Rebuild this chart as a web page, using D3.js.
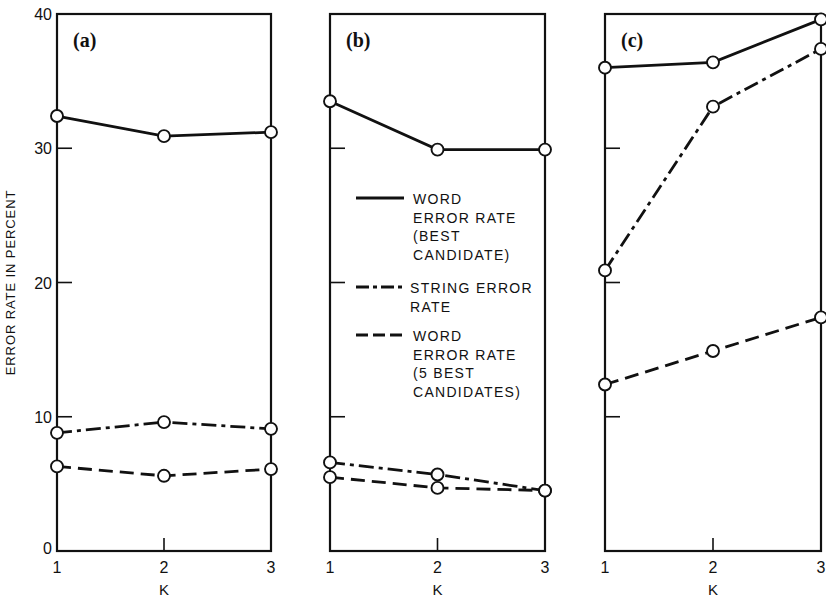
<!DOCTYPE html>
<html>
<head>
<meta charset="utf-8">
<script src="https://cdn.jsdelivr.net/npm/d3@7/dist/d3.min.js"></script>
<style>
  html, body { margin: 0; padding: 0; background: #fff; }
  svg { display: block; }
  text { font-family: "Liberation Sans", Arial, sans-serif; fill: #111; }
</style>
</head>
<body>
<svg id="chart" width="826" height="598"></svg>
<script>
// K values on the horizontal axis
const kValues = [1, 2, 3];
const yTicks = [0, 10, 20, 30, 40];
const panelNames = ["(a)", "(b)", "(c)"];

// Error rates (percent) per panel, for K = 1, 2, 3
const wordBestA = [32.4, 30.9, 31.2];
const stringA   = [8.8, 9.6, 9.1];
const word5A    = [6.3, 5.6, 6.1];

const wordBestB = [33.5, 29.9, 29.9];
const stringB   = [6.6, 5.7, 4.5];
const word5B    = [5.5, 4.7, 4.5];

const wordBestC = [36.0, 36.4, 39.6];
const stringC   = [20.9, 33.1, 37.4];
const word5C    = [12.4, 14.9, 17.4];

const seriesNames = ["WORD ERROR RATE (BEST CANDIDATE)", "STRING ERROR RATE", "WORD ERROR RATE (5 BEST CANDIDATES)"];
const legendLines = [
  ["WORD", "ERROR RATE", "(BEST", "CANDIDATE)"],
  ["STRING ERROR", "RATE"],
  ["WORD", "ERROR RATE", "(5 BEST", "CANDIDATES)"]
];

const panels = [
  { name: panelNames[0], series: [wordBestA, stringA, word5A], x0: 57,  x1: 271 },
  { name: panelNames[1], series: [wordBestB, stringB, word5B], x0: 330, x1: 545 },
  { name: panelNames[2], series: [wordBestC, stringC, word5C], x0: 605, x1: 821 }
];

const dashes = [null, "15,5,4,5", "14,7"];

const svg = d3.select("#chart");
const y = d3.scaleLinear().domain([0, 40]).range([551, 14]);

panels.forEach((p, pi) => {
  const x = d3.scaleLinear().domain([1, 3]).range([p.x0, p.x1]);
  const g = svg.append("g");

  // frame
  g.append("rect")
    .attr("x", p.x0).attr("y", y(40))
    .attr("width", p.x1 - p.x0).attr("height", y(0) - y(40))
    .attr("fill", "none").attr("stroke", "#111").attr("stroke-width", 2.2);

  // left inward ticks
  g.selectAll("line.ytick").data(yTicks.filter(t => t > 0 && t < 40)).enter()
    .append("line")
    .attr("x1", p.x0).attr("x2", p.x0 + 15)
    .attr("y1", d => y(d)).attr("y2", d => y(d))
    .attr("stroke", "#111").attr("stroke-width", 1.6);

  // bottom tick at K = 2
  g.append("line")
    .attr("x1", x(2)).attr("x2", x(2))
    .attr("y1", y(0)).attr("y2", y(0) - 13)
    .attr("stroke", "#111").attr("stroke-width", 1.6);

  // x tick labels
  g.selectAll("text.xl").data(kValues).enter()
    .append("text")
    .attr("x", d => x(d)).attr("y", 573)
    .attr("text-anchor", "middle")
    .style("font-size", "16px")
    .text(d => d);

  g.append("text")
    .attr("x", x(2)).attr("y", 595)
    .attr("text-anchor", "middle")
    .style("font-size", "15px")
    .text("K");

  // panel label
  g.append("text")
    .attr("x", p.x0 + 16).attr("y", 47)
    .style("font-family", "'Liberation Serif', 'Times New Roman', serif")
    .style("font-size", "20px")
    .style("font-weight", "bold")
    .text(p.name);

  // series lines
  const line = d3.line().x((d, i) => x(kValues[i])).y(d => y(d));
  p.series.forEach((vals, si) => {
    g.append("path")
      .datum(vals)
      .attr("d", line)
      .attr("fill", "none")
      .attr("stroke", "#111")
      .attr("stroke-width", 2.8)
      .attr("stroke-dasharray", dashes[si]);
  });
  p.series.forEach(vals => {
    g.selectAll(null).data(vals).enter()
      .append("circle")
      .attr("cx", (d, i) => x(kValues[i])).attr("cy", d => y(d))
      .attr("r", 6)
      .attr("fill", "#fff").attr("stroke", "#111").attr("stroke-width", 1.9);
  });
});

// y tick labels on the first panel
svg.selectAll("text.yl").data(yTicks).enter()
  .append("text")
  .attr("x", 52).attr("y", d => y(d) + 6 - (d === 0 ? 3 : 0))
  .attr("text-anchor", "end")
  .style("font-size", "16px")
  .text(d => d);

// y axis title
svg.append("text")
  .attr("transform", `translate(15, ${y(20)}) rotate(-90)`)
  .attr("text-anchor", "middle")
  .style("font-size", "13px")
  .style("letter-spacing", "0.9px")
  .text("ERROR RATE IN PERCENT");

// legend inside panel (b)
const legendTop = [198, 287, 335];
const legend = svg.append("g");
legendLines.forEach((lines, si) => {
  legend.append("line")
    .attr("x1", 356).attr("x2", 404)
    .attr("y1", legendTop[si]).attr("y2", legendTop[si])
    .attr("stroke", "#111").attr("stroke-width", 2.8)
    .attr("stroke-dasharray", si === 1 ? "13,4,4,4" : si === 2 ? "12,5" : null);
  lines.forEach((t, li) => {
    legend.append("text")
      .attr("x", si === 1 ? 410 : 413)
      .attr("y", legendTop[si] + 6 + li * 18.5)
      .style("font-size", "14px")
      .style("letter-spacing", "1.3px")
      .text(t);
  });
});
</script>
</body>
</html>
